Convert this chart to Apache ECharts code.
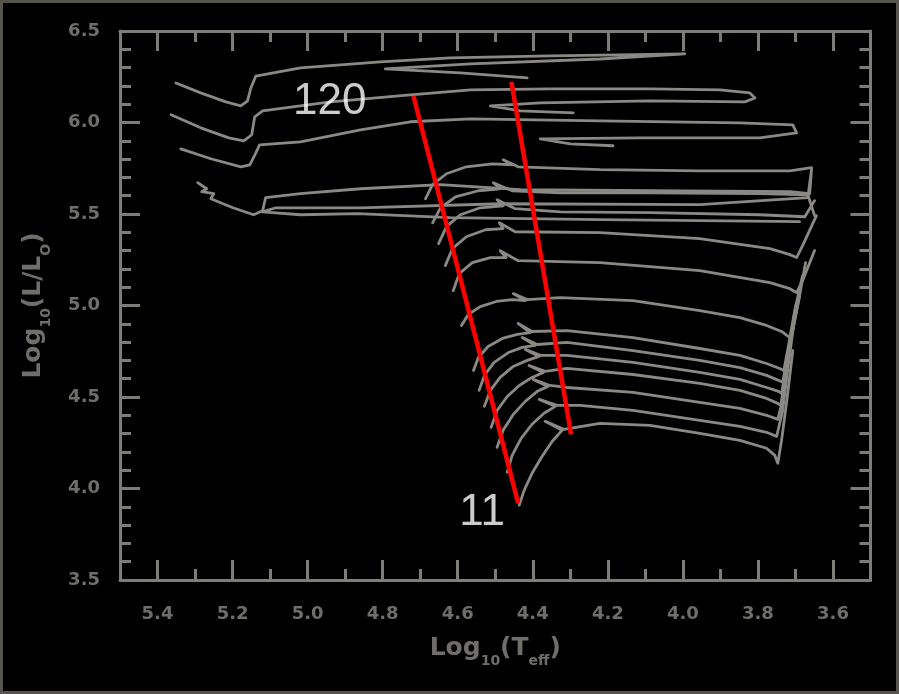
<!DOCTYPE html>
<html>
<head>
<meta charset="utf-8">
<script src="https://cdn.jsdelivr.net/npm/echarts@6/dist/echarts.min.js"></script>
<style>
html,body{margin:0;padding:0;background:#000;}
#chart{width:899px;height:694px;}
</style>
</head>
<body>
<div id="chart"></div>
<script>
// ---------- axis ticks ----------
const xMajorTicks = [5.4, 5.2, 5.0, 4.8, 4.6, 4.4, 4.2, 4.0, 3.8, 3.6];
const xMinorTicks = [5.3, 5.1, 4.9, 4.7, 4.5, 4.3, 4.1, 3.9, 3.7];
const yMajorTicks = [3.5, 4.0, 4.5, 5.0, 5.5, 6.0, 6.5];

// ---------- evolutionary tracks [log Teff, log L] ----------
const trackA = [[5.351,6.216],[5.285,6.162],[5.218,6.113],[5.178,6.091],[5.160,6.118],[5.152,6.184],[5.138,6.254],[5.019,6.298],[4.806,6.331],[4.620,6.353],[4.354,6.364],[3.995,6.375],[4.221,6.347],[4.566,6.320],[4.793,6.293],[4.593,6.271],[4.415,6.244]];
const trackB = [[5.364,6.042],[5.285,5.971],[5.210,5.916],[5.170,5.900],[5.149,5.933],[5.141,6.031],[5.120,6.064],[4.939,6.113],[4.726,6.151],[4.566,6.178],[4.354,6.184],[4.088,6.184],[3.901,6.178],[3.822,6.162],[3.808,6.134],[3.835,6.113],[4.088,6.118],[4.380,6.107],[4.513,6.091],[4.433,6.064],[4.292,6.053]];
const trackC = [[5.338,5.856],[5.258,5.802],[5.178,5.758],[5.154,5.769],[5.138,5.834],[5.128,5.878],[5.019,5.894],[4.859,5.960],[4.726,6.004],[4.566,6.020],[4.221,6.009],[3.848,5.998],[3.707,5.987],[3.697,5.943],[3.795,5.916],[4.114,5.916],[4.380,5.911],[4.300,5.883],[4.186,5.873]];
const trackD = [[5.293,5.671],[5.269,5.638],[5.282,5.622],[5.250,5.611],[5.258,5.583],[5.199,5.534],[5.144,5.496],[5.120,5.518],[5.112,5.589],[5.019,5.611],[4.859,5.638],[4.646,5.660],[4.433,5.633],[4.088,5.627],[3.715,5.622],[3.662,5.611],[3.657,5.747],[3.667,5.589],[3.955,5.551],[4.487,5.556],[4.859,5.534],[5.085,5.534],[5.120,5.512],[5.019,5.496],[4.867,5.502],[4.620,5.480],[4.221,5.469],[3.689,5.458]];
const trackE = [[4.686,5.583],[4.667,5.660],[4.630,5.720],[4.577,5.758],[4.508,5.774],[4.455,5.769],[4.479,5.796],[4.439,5.758],[4.221,5.742],[3.955,5.736],[3.715,5.736],[3.657,5.753]];
const trackF = [[4.667,5.452],[4.646,5.534],[4.606,5.594],[4.545,5.627],[4.487,5.638],[4.505,5.671],[4.455,5.627],[4.327,5.616],[4.088,5.616],[3.795,5.611],[3.667,5.605],[3.649,5.491]];
const trackG = [[4.651,5.338],[4.630,5.431],[4.593,5.496],[4.540,5.534],[4.479,5.545],[4.495,5.578],[4.447,5.529],[4.327,5.512],[4.088,5.507],[3.795,5.496],[3.675,5.485],[3.649,5.573]];
const trackH = [[4.633,5.218],[4.614,5.311],[4.577,5.376],[4.526,5.414],[4.479,5.420],[4.489,5.452],[4.447,5.403],[4.221,5.398],[3.955,5.365],[3.768,5.311],[3.715,5.278],[3.697,5.262],[3.681,5.327],[3.644,5.491]];
const trackI = [[4.612,5.081],[4.596,5.174],[4.561,5.234],[4.513,5.262],[4.471,5.262],[4.487,5.300],[4.439,5.245],[4.221,5.234],[3.955,5.191],[3.768,5.125],[3.715,5.092],[3.697,5.071],[3.681,5.136],[3.649,5.300]];
const trackJ = [[4.590,4.891],[4.572,4.951],[4.540,4.994],[4.497,5.022],[4.455,5.032],[4.420,5.027],[4.452,5.065],[4.415,5.032],[4.327,5.043],[4.133,5.027],[3.955,4.972],[3.848,4.934],[3.777,4.891],[3.737,4.858],[3.715,4.825],[3.705,4.891],[3.689,5.054],[3.673,5.234]];
const trackK = [[4.558,4.645],[4.545,4.716],[4.519,4.776],[4.481,4.820],[4.441,4.842],[4.407,4.852],[4.439,4.902],[4.402,4.858],[4.309,4.863],[4.133,4.825],[3.955,4.765],[3.848,4.727],[3.777,4.683],[3.742,4.656],[3.731,4.645],[3.721,4.754],[3.702,4.972],[3.681,5.163]];
const trackL = [[4.543,4.536],[4.529,4.618],[4.503,4.689],[4.465,4.743],[4.428,4.771],[4.394,4.782],[4.428,4.825],[4.388,4.787],[4.309,4.798],[4.133,4.754],[3.955,4.700],[3.848,4.661],[3.777,4.618],[3.745,4.591],[3.734,4.580],[3.723,4.700],[3.707,4.863],[3.689,5.054]];
const trackM = [[4.529,4.449],[4.513,4.536],[4.487,4.607],[4.452,4.667],[4.415,4.700],[4.383,4.722],[4.420,4.760],[4.378,4.727],[4.309,4.727],[4.133,4.689],[3.955,4.634],[3.848,4.596],[3.777,4.552],[3.745,4.531],[3.737,4.520],[3.726,4.645],[3.710,4.836],[3.694,5.027]];
const trackN = [[4.511,4.334],[4.495,4.427],[4.468,4.503],[4.436,4.563],[4.402,4.607],[4.372,4.634],[4.410,4.672],[4.367,4.640],[4.309,4.656],[4.133,4.623],[3.955,4.574],[3.848,4.536],[3.777,4.492],[3.747,4.465],[3.739,4.454],[3.729,4.591],[3.715,4.782],[3.699,5.000]];
const trackO = [[4.495,4.225],[4.479,4.318],[4.452,4.405],[4.420,4.476],[4.388,4.531],[4.359,4.558],[4.399,4.596],[4.354,4.563],[4.309,4.552],[4.133,4.525],[3.955,4.471],[3.848,4.438],[3.777,4.400],[3.747,4.378],[3.742,4.372],[3.731,4.509],[3.718,4.727],[3.702,4.945]];
const trackP = [[4.468,4.089],[4.455,4.181],[4.431,4.274],[4.402,4.351],[4.370,4.411],[4.340,4.449],[4.383,4.487],[4.335,4.454],[4.274,4.454],[4.133,4.427],[3.955,4.372],[3.848,4.340],[3.777,4.307],[3.750,4.285],[3.745,4.280],[3.734,4.427],[3.721,4.645],[3.705,4.891]];
const trackQ = [[4.436,3.909],[4.423,3.990],[4.402,4.083],[4.375,4.176],[4.348,4.258],[4.322,4.318],[4.367,4.367],[4.317,4.323],[4.221,4.356],[4.088,4.345],[3.955,4.301],[3.848,4.263],[3.777,4.220],[3.755,4.181],[3.747,4.138],[3.737,4.263],[3.723,4.481],[3.707,4.754]];

// ---------- red reference lines ----------
const zamsLine = [[4.718,6.145],[4.439,3.920]];
const tamsLine = [[4.457,6.222],[4.298,4.296]];

// ---------- mass labels ----------
const massLabels = [
  {name: '120', value: [4.941, 6.113]},
  {name: '11', value: [4.535, 3.865]}
];

const tracks = [trackA, trackB, trackC, trackD, trackE, trackF, trackG, trackH, trackI,
                trackJ, trackK, trackL, trackM, trackN, trackO, trackP, trackQ];

const AXIS = '#7d7c77';
const LABEL = '#6f6e6a';
const TRACK = '#8a8984';
const FONT = '"Liberation Sans", Arial, sans-serif';
const TICKFONT = '"DejaVu Sans", sans-serif';

function xAxisDef(pos, ticks, len, showLabel, showLine) {
  return {
    type: 'value', position: pos, min: 3.5, max: 5.5, inverse: true,
    splitLine: {show: false},
    axisLine: {show: showLine, onZero: false, lineStyle: {color: AXIS, width: 3}},
    axisTick: {show: true, inside: true, length: len, customValues: ticks, lineStyle: {color: AXIS, width: 3}},
    axisLabel: {show: showLabel, customValues: ticks, margin: 25, color: LABEL, fontSize: 18, fontWeight: 'bold', fontFamily: TICKFONT,
      formatter: v => v.toFixed(1)}
  };
}

const titleRich = {
  a: {fontSize: 25, fontWeight: 'bold', color: LABEL, fontFamily: TICKFONT, lineHeight: 30, padding: [0,0,7,0], verticalAlign: 'bottom'},
  s: {fontSize: 14, fontWeight: 'bold', color: LABEL, fontFamily: TICKFONT, lineHeight: 14, verticalAlign: 'bottom'}
};

const xAxes = [
  Object.assign(xAxisDef('bottom', xMajorTicks, 20, true, true), {
    name: '{a|Log}{s|10}{a|(T}{s|eff}{a|)}', nameLocation: 'middle', nameGap: 58,
    nameTextStyle: {rich: titleRich}
  }),
  xAxisDef('bottom', xMinorTicks, 11, false, false),
  xAxisDef('top', xMajorTicks, 20, false, true),
  xAxisDef('top', xMinorTicks, 11, false, false)
];

function yAxisDef(pos, showLabel) {
  return {
    type: 'value', position: pos, min: 3.5, max: 6.5, interval: 0.5,
    splitLine: {show: false},
    axisLine: {show: true, onZero: false, lineStyle: {color: AXIS, width: 3}},
    axisTick: {show: true, inside: true, length: 20, lineStyle: {color: AXIS, width: 3}},
    minorTick: {show: true, splitNumber: 5, length: 11, lineStyle: {color: AXIS, width: 3}},
    minorSplitLine: {show: false},
    axisLabel: {show: showLabel, margin: 20, color: LABEL, fontSize: 18, fontWeight: 'bold', fontFamily: TICKFONT,
      formatter: v => v.toFixed(1)}
  };
}

const yAxes = [
  Object.assign(yAxisDef('left', true), {
    name: '{a|Log}{s|10}{a|(L/L}{s|O}{a|)}', nameLocation: 'middle', nameGap: 67,
    nameTextStyle: {rich: titleRich}
  }),
  yAxisDef('right', false)
];

const series = tracks.map(t => ({
  type: 'line', data: t, xAxisIndex: 0, yAxisIndex: 0,
  symbol: 'none', smooth: false, silent: true, z: 2,
  lineStyle: {color: TRACK, width: 2.8, join: 'round', cap: 'round'}
}));
[zamsLine, tamsLine].forEach(l => series.push({
  type: 'line', data: l, xAxisIndex: 0, yAxisIndex: 0,
  symbol: 'none', silent: true, z: 3,
  lineStyle: {color: '#ff0000', width: 4.5}
}));
series.push({
  type: 'scatter', data: massLabels, xAxisIndex: 0, yAxisIndex: 0,
  symbolSize: 0, silent: true, z: 4,
  label: {show: true, position: 'inside', formatter: '{b}', color: '#ffffff', fontSize: 44, fontFamily: FONT}
});

const chart = echarts.init(document.getElementById('chart'), null, {renderer: 'canvas'});
chart.setOption({
  animation: false,
  backgroundColor: '#000000',
  grid: {left: 120, right: 28.5, top: 31, bottom: 114, containLabel: false},
  xAxis: xAxes,
  yAxis: yAxes,
  series: series,
  graphic: [{
    type: 'rect', silent: true, z: 100,
    shape: {x: 1.5, y: 1.5, width: 896, height: 691},
    style: {fill: 'none', stroke: '#55544f', lineWidth: 3}
  }]
});
</script>
</body>
</html>
